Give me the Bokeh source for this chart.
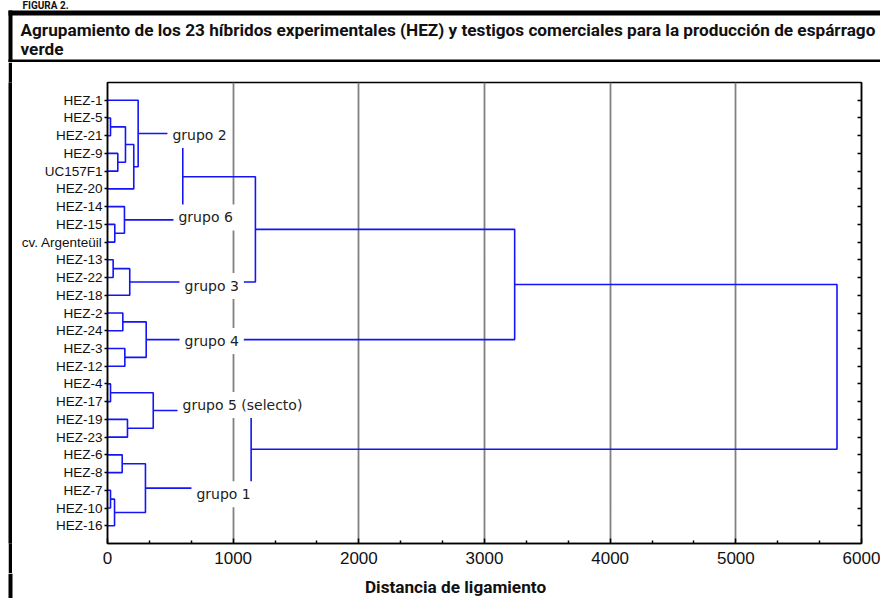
from bokeh.plotting import figure
from bokeh.layouts import column, row
from bokeh.models import Range1d, FixedTicker, LinearAxis, Label, BoxAnnotation, Spacer
from bokeh.embed import file_html
from bokeh.resources import INLINE

# ---------------- data ----------------
leaves = ["HEZ-1", "HEZ-5", "HEZ-21", "HEZ-9", "UC157F1", "HEZ-20", "HEZ-14", "HEZ-15",
          "cv. Argenteüil", "HEZ-13", "HEZ-22", "HEZ-18", "HEZ-2", "HEZ-24", "HEZ-3", "HEZ-12",
          "HEZ-4", "HEZ-17", "HEZ-19", "HEZ-23", "HEZ-6", "HEZ-8", "HEZ-7", "HEZ-10", "HEZ-16"]

# linkage: leaves have ids 0..24, each merge creates id 25 + merge index
merge_a = [1, 3, 25, 27, 0, 7, 6, 29, 9, 33, 32, 12, 14, 36, 35, 16, 18, 40, 20, 22, 44, 43, 42, 39]
merge_b = [2, 4, 26, 5, 28, 8, 30, 31, 10, 11, 34, 13, 15, 37, 38, 17, 19, 41, 21, 23, 24, 45, 46, 47]
merge_dist = [24, 82, 143, 209, 244, 58, 135, 599, 45, 177, 1177, 122, 138, 308, 3240,
              24, 159, 364, 117, 24, 56, 302, 1143, 5805]

group_names = ["grupo 2", "grupo 6", "grupo 3", "grupo 4", "grupo 5 (selecto)", "grupo 1"]
group_x = [477, 525, 573, 573, 557, 668]
group_y = [1.96, 6.61, 10.48, 13.58, 17.19, 22.22]

x_ticks = [0, 1000, 2000, 3000, 4000, 5000, 6000]

fig_label = "FIGURA 2."
title_line1 = "Agrupamiento de los 23 híbridos experimentales (HEZ) y testigos comerciales para la producción de espárrago"
title_line2 = "verde"
x_title = "Distancia de ligamiento"

# ---------------- dendrogram segments ----------------
pos = [float(i) for i in range(len(leaves))]
hgt = [0.0] * len(leaves)
xs, ys = [], []
for a, b, d in zip(merge_a, merge_b, merge_dist):
    xs.append([hgt[a], d, d, hgt[b]])
    ys.append([pos[a], pos[a], pos[b], pos[b]])
    pos.append((pos[a] + pos[b]) / 2.0)
    hgt.append(float(d))

PAGE_W, PAGE_H = 880, 598
HEAD_H = 62
FOOT_H = 25
GAP_W, BAR_W = 8, 4
MAIN_H = PAGE_H - HEAD_H - FOOT_H
MAIN_W = PAGE_W - GAP_W - BAR_W
BL, BR, BT, BB = 95, 19, 20, 30

TXT = "#111111"
TFONT = "Roboto"

def blank(w, h, fill="white", bt=0, bb=0):
    f = figure(width=w, height=h, output_backend="svg", toolbar_location=None, title=None,
               x_range=Range1d(0, w), y_range=Range1d(h, 0),
               x_axis_type=None, y_axis_type=None, min_border=0,
               min_border_top=bt, min_border_bottom=bb,
               background_fill_color=fill, border_fill_color=fill)
    f.grid.visible = False
    f.outline_line_color = None
    return f

def box(f, l, r, t, b, color="black"):
    f.add_layout(BoxAnnotation(left=l, right=r, top=t, bottom=b,
                               fill_color=color, fill_alpha=1, line_color=None))

# ---------------- header ----------------
head = blank(PAGE_W, HEAD_H)
box(head, 8, PAGE_W, 10, 15)        # top thick bar
box(head, 8, 12, 10, HEAD_H)        # left bar (header part)
box(head, 8, PAGE_W, 59, 62)        # divider under the title
head.add_layout(Label(x=22, y=5, text=fig_label, text_align="left", text_baseline="middle",
                      text_font=TFONT, text_font_style="bold", text_font_size="10px",
                      text_color=TXT))
head.add_layout(Label(x=20, y=29.5, text=title_line1, text_align="left", text_baseline="middle",
                      text_font=TFONT, text_font_style="bold", text_font_size="17.2px",
                      text_color=TXT))
head.add_layout(Label(x=20, y=48.5, text=title_line2, text_align="left", text_baseline="middle",
                      text_font=TFONT, text_font_style="bold", text_font_size="17.2px",
                      text_color=TXT))

# ---------------- footer (x title) ----------------
foot = blank(PAGE_W, FOOT_H)
box(foot, 8, 12, 0, FOOT_H)
foot.add_layout(Label(x=455, y=13, text=x_title, text_align="center", text_baseline="middle",
                      text_font=TFONT, text_font_style="bold", text_font_size="17.2px",
                      text_color=TXT))

# ---------------- left bar beside the plot (all black canvas, same borders as plot) ----------------
lbar = blank(BAR_W, MAIN_H, fill="black", bt=BT, bb=BB)

# ---------------- main dendrogram ----------------
p = figure(width=MAIN_W, height=MAIN_H, output_backend="svg", toolbar_location=None, title=None,
           x_range=Range1d(0, 6000), y_range=Range1d(len(leaves), -1),
           min_border_left=BL, min_border_right=BR, min_border_top=BT, min_border_bottom=BB,
           background_fill_color="white", border_fill_color="white")
p.outline_line_color = "black"
p.outline_line_width = 1.5

p.ygrid.grid_line_color = None
p.xgrid.grid_line_color = "#808080"
p.xgrid.grid_line_width = 1.8

minor = [t + k * 1000 / 3 for t in x_ticks[:-1] for k in (1, 2)]
xt = FixedTicker(ticks=x_ticks, minor_ticks=minor)
p.xaxis.ticker = xt
p.xgrid.ticker = xt
xa = p.xaxis[0]
xa.axis_line_color = "black"
xa.axis_line_width = 1.5
xa.major_tick_in = 5
xa.major_tick_out = 0
xa.minor_tick_in = 3
xa.minor_tick_out = 0
xa.major_tick_line_width = 1.5
xa.minor_tick_line_width = 1.5
xa.major_label_text_font = "Liberation Sans"
xa.major_label_text_font_size = "17px"
xa.major_label_text_color = TXT
xa.major_label_standoff = 8

yt = FixedTicker(ticks=list(range(len(leaves))), minor_ticks=[])
ya = p.yaxis[0]
ya.ticker = yt
ya.major_label_overrides = {i: name for i, name in enumerate(leaves)}
ya.axis_line_color = "black"
ya.axis_line_width = 1.5
ya.major_tick_in = 0
ya.major_tick_out = 3
ya.major_tick_line_width = 1.5
ya.minor_tick_line_color = None
ya.major_label_standoff = 2
ya.major_label_text_font = "Liberation Sans"
ya.major_label_text_font_size = "13.5px"
ya.major_label_text_color = TXT

ra = LinearAxis(ticker=yt, major_label_overrides={i: "" for i in range(len(leaves))},
                axis_line_color="black", axis_line_width=1.5,
                major_tick_in=4, major_tick_out=0, major_tick_line_width=1.5,
                minor_tick_line_color=None, major_label_standoff=0,
                major_label_text_font_size="1px")
p.add_layout(ra, "right")

p.multi_line(xs, ys, line_color="#1414F5", line_width=1.6)

for name, gx, gy in zip(group_names, group_x, group_y):
    p.add_layout(Label(x=gx, y=gy, text=name, text_align="left", text_baseline="middle",
                       text_font="DejaVu Sans", text_font_size="14px", text_color="#222222",
                       background_fill_color="white", background_fill_alpha=1.0, padding=5))

gap = Spacer(width=GAP_W, height=MAIN_H)
layout = column(head, row(gap, lbar, p, spacing=0), foot, spacing=0)
open("out.html", "w").write(file_html(layout, INLINE))
